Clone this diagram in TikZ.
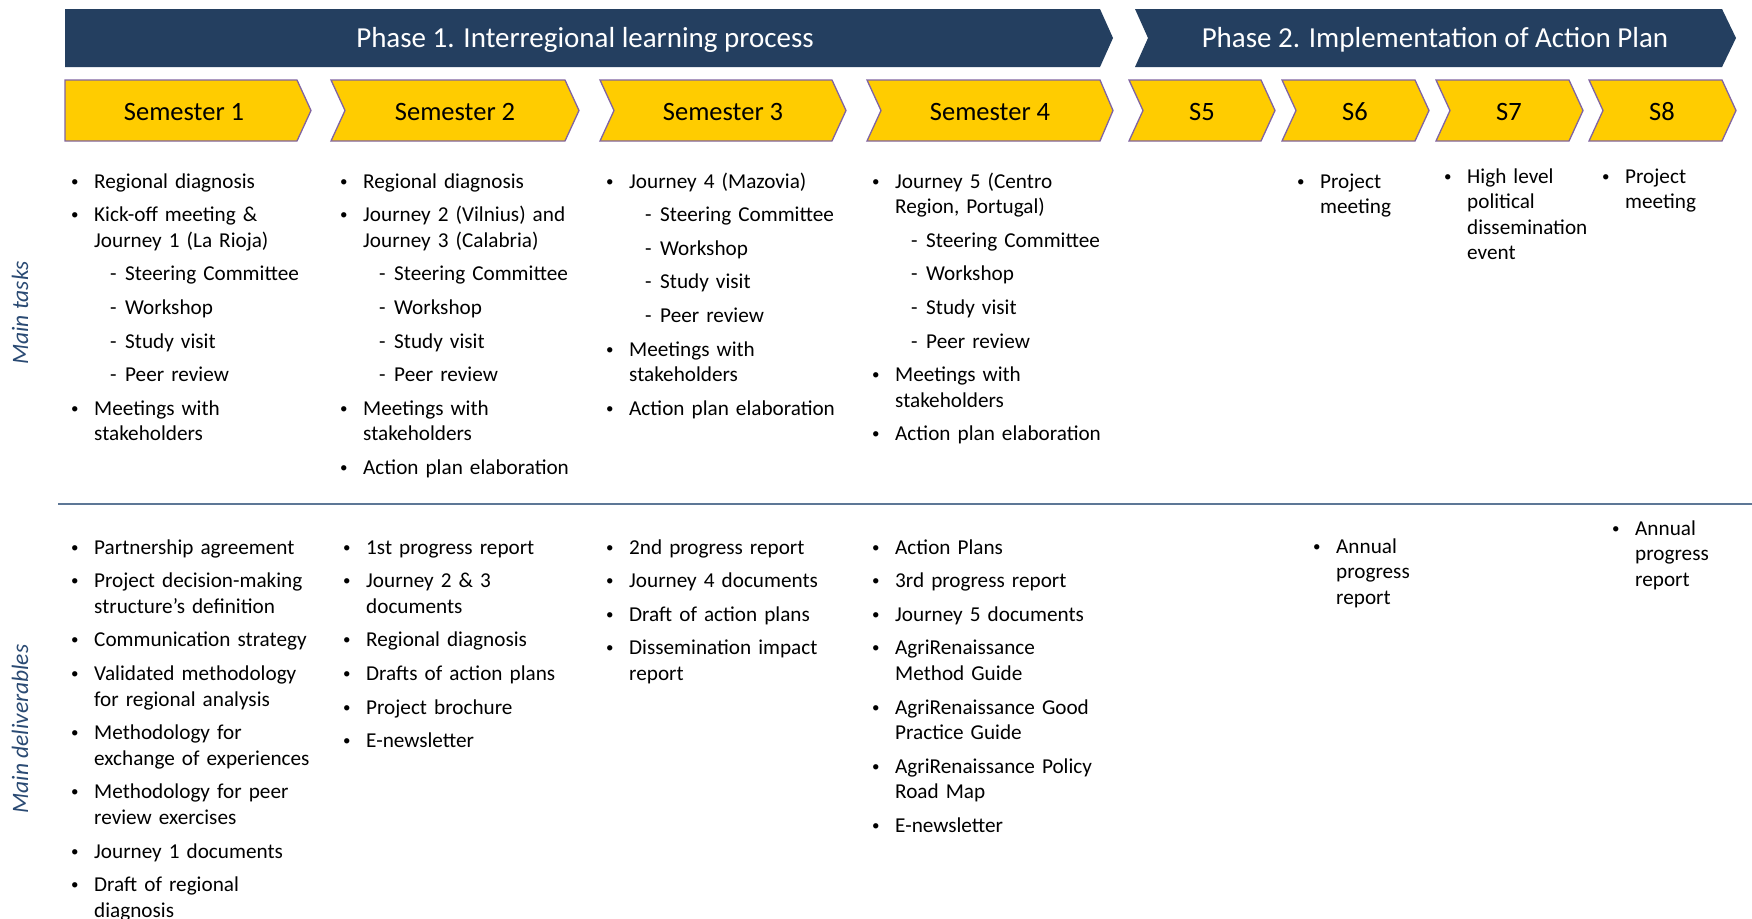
\documentclass[tikz,border=0pt]{standalone}
\usepackage{fontspec}
\setmainfont{Carlito}
\usetikzlibrary{positioning}

\definecolor{navybar}{HTML}{243F60}
\definecolor{goldtab}{HTML}{FFCC00}
\definecolor{tabedge}{HTML}{8064A2}
\definecolor{rulegray}{HTML}{5D7796}
\definecolor{sidetext}{HTML}{2A4A73}

% bullet and dash lines
\newcommand{\smallbul}{\raisebox{2pt}{\fontsize{15}{15}\selectfont\textbullet}}
\newcommand{\bul}[1]{\par\hangindent=20pt\hangafter=1\noindent\makebox[20pt][l]{\hspace*{-3pt}\smallbul}#1\par\vskip 8pt}
\newcommand{\dsh}[1]{\par\noindent\hspace*{36pt}\makebox[15pt][l]{-}#1\par\vskip 8pt}

\begin{document}
\begin{tikzpicture}[x=1pt, y=-1pt,
  phasebar/.style={fill=navybar},
  semtab/.style={fill=goldtab, draw=tabedge, line width=1.3pt},
  phasetext/.style={anchor=base, text=white, font=\fontsize{29}{34}\selectfont},
  semtext/.style={anchor=base, font=\fontsize{26.5}{31}\selectfont},
  listcol/.style={anchor=base west, inner sep=0pt, text width=300pt, align=left, font=\fontsize{21.2}{25.6}\selectfont},
  sidelabel/.style={rotate=90, text=sidetext, font=\fontsize{23.5}{28}\selectfont\itshape}]

\useasboundingbox[fill=white] (0,0) rectangle (1752,918);

\fill[phasebar] (65,9) -- (1100,9) -- (1113,38) -- (1100,67) -- (65,67) -- cycle;
\fill[phasebar] (1135,9) -- (1722,9) -- (1736,38) -- (1722,67) -- (1135,67) -- (1148,38) -- cycle;
\node[phasetext] (P1) at (585,47) {Phase 1. Interregional learning process};
\node[phasetext] (P2) at (1435,47) {Phase 2. Implementation of Action Plan};

\draw[semtab] (65,80) -- (297,80) -- (311,110.5) -- (297,141) -- (65,141) -- cycle;
\draw[semtab] (331,80) -- (565,80) -- (579,110.5) -- (565,141) -- (331,141) -- (345,110.5) -- cycle;
\draw[semtab] (600,80) -- (832,80) -- (846,110.5) -- (832,141) -- (600,141) -- (614,110.5) -- cycle;
\draw[semtab] (867,80) -- (1100,80) -- (1113,110.5) -- (1100,141) -- (867,141) -- (881,110.5) -- cycle;
\draw[semtab] (1129,80) -- (1261,80) -- (1275,110.5) -- (1261,141) -- (1129,141) -- (1143,110.5) -- cycle;
\draw[semtab] (1282,80) -- (1415,80) -- (1429,110.5) -- (1415,141) -- (1282,141) -- (1296,110.5) -- cycle;
\draw[semtab] (1436,80) -- (1569,80) -- (1583,110.5) -- (1569,141) -- (1436,141) -- (1450,110.5) -- cycle;
\draw[semtab] (1589,80) -- (1722,80) -- (1736,110.5) -- (1722,141) -- (1589,141) -- (1603,110.5) -- cycle;

\node[semtext] (S1) at (184,120) {Semester 1};
\node[semtext] (S2) at (455,120) {Semester 2};
\node[semtext] (S3) at (723,120) {Semester 3};
\node[semtext] (S4) at (990,120) {Semester 4};
\node[semtext] (S5) at (1202,120) {S5};
\node[semtext] (S6) at (1355,120) {S6};
\node[semtext] (S7) at (1509,120) {S7};
\node[semtext] (S8) at (1662,120) {S8};

\node[sidelabel] (LT) at (20,313) {Main tasks};
\node[sidelabel] (LD) at (20,729) {Main deliverables};

\draw[rulegray, line width=2pt] (58,504) -- (1752,504);

% main tasks
\node[listcol] (T1) at (74,162.4) {\bul{Regional diagnosis}\bul{Kick-off meeting \&\newline Journey 1 (La Rioja)}\dsh{Steering Committee}\dsh{Workshop}\dsh{Study visit}\dsh{Peer review}\bul{Meetings with\newline stakeholders}};
\node[listcol] (T2) at (343,162.4) {\bul{Regional diagnosis}\bul{Journey 2 (Vilnius) and\newline Journey 3 (Calabria)}\dsh{Steering Committee}\dsh{Workshop}\dsh{Study visit}\dsh{Peer review}\bul{Meetings with\newline stakeholders}\bul{Action plan elaboration}};
\node[listcol] (T3) at (609,162.4) {\bul{Journey 4 (Mazovia)}\dsh{Steering Committee}\dsh{Workshop}\dsh{Study visit}\dsh{Peer review}\bul{Meetings with\newline stakeholders}\bul{Action plan elaboration}};
\node[listcol] (T4) at (875,162.4) {\bul{Journey 5 (Centro\newline Region, Portugal)}\dsh{Steering Committee}\dsh{Workshop}\dsh{Study visit}\dsh{Peer review}\bul{Meetings with\newline stakeholders}\bul{Action plan elaboration}};
\node[listcol] (T6) at (1300,162.4) {\bul{Project\newline meeting}};
\node[listcol] (T7) at (1447,157.4) {\bul{High level\newline political\newline dissemination\newline event}};
\node[listcol] (T8) at (1605,157.4) {\bul{Project\newline meeting}};

% main deliverables
\node[listcol] (D1) at (74,528.4) {\bul{Partnership agreement}\bul{Project decision-making\newline structure’s definition}\bul{Communication strategy}\bul{Validated methodology\newline for regional analysis}\bul{Methodology for\newline exchange of experiences}\bul{Methodology for peer\newline review exercises}\bul{Journey 1 documents}\bul{Draft of regional\newline diagnosis}};
\node[listcol] (D2) at (346,528.4) {\bul{1st progress report}\bul{Journey 2 \& 3\newline documents}\bul{Regional diagnosis}\bul{Drafts of action plans}\bul{Project brochure}\bul{E-newsletter}};
\node[listcol] (D3) at (609,528.4) {\bul{2nd progress report}\bul{Journey 4 documents}\bul{Draft of action plans}\bul{Dissemination impact\newline report}};
\node[listcol] (D4) at (875,528.4) {\bul{Action Plans}\bul{3rd progress report}\bul{Journey 5 documents}\bul{AgriRenaissance\newline Method Guide}\bul{AgriRenaissance Good\newline Practice Guide}\bul{AgriRenaissance Policy\newline Road Map}\bul{E-newsletter}};
\node[listcol] (D6) at (1316,527.4) {\bul{Annual\newline progress\newline report}};
\node[listcol] (D8) at (1615,509.4) {\bul{Annual\newline progress\newline report}};
\end{tikzpicture}
\end{document}
